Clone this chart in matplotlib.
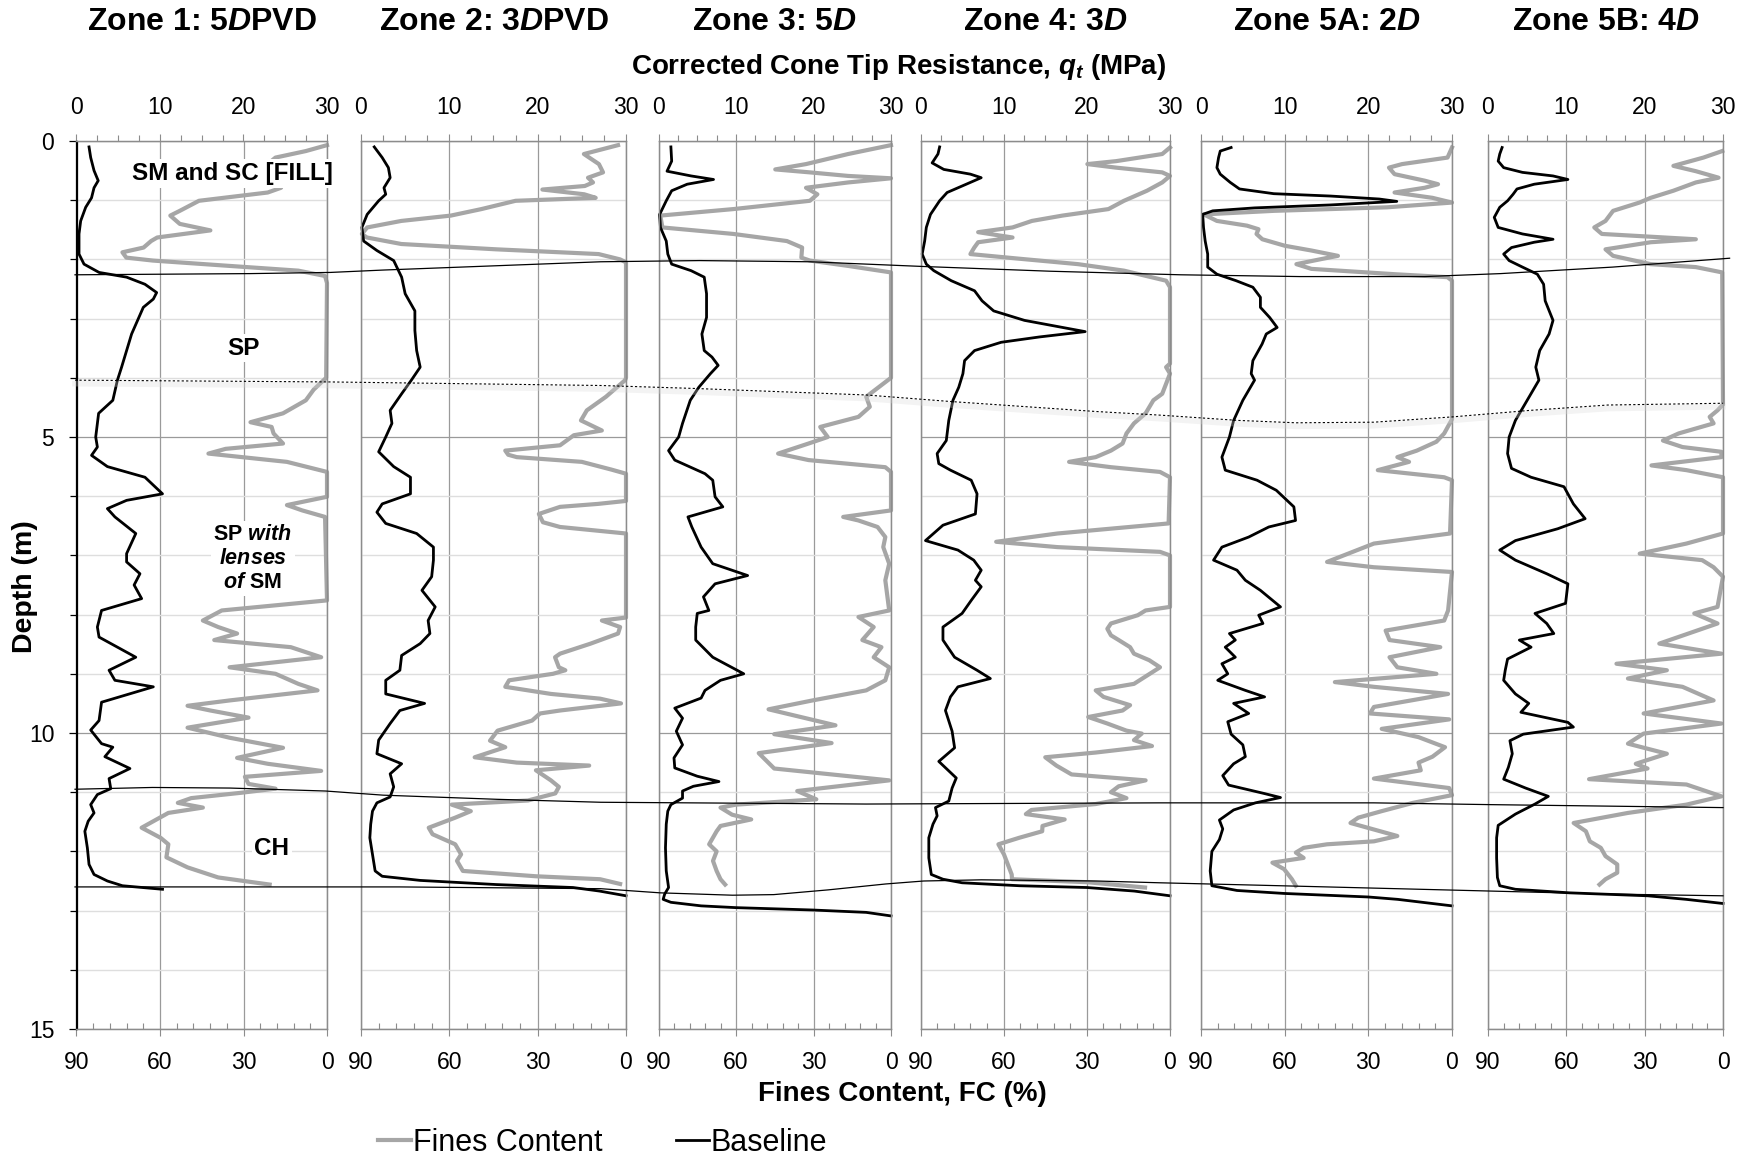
import numpy as np
import matplotlib
matplotlib.use('Agg')
import matplotlib.pyplot as plt
from matplotlib.ticker import MultipleLocator

"""
CPT profiles: corrected cone tip resistance qt (MPa) and fines content FC (%)
against depth (m) for six zones, values read off the reference figure.
"""

# panel titles
ZONES = ['Zone 1: 5$D$PVD', 'Zone 2: 3$D$PVD', 'Zone 3: 5$D$',
         'Zone 4: 3$D$', 'Zone 5A: 2$D$', 'Zone 5B: 4$D$']

# (depth m, qt MPa)
z1_qt = [(0.1, 1.5), (0.28, 1.7), (0.5, 2.1), (0.67, 2.6), (0.79, 2.1), (0.96, 1.8), (1.12, 1.1),
         (1.35, 0.5), (1.57, 0.3), (1.91, 0.3), (2.08, 0.9), (2.22, 2.7), (2.3, 6.0), (2.42, 8.2),
         (2.56, 9.6), (2.67, 9.2), (2.81, 8.0), (3.26, 6.6), (3.82, 5.4), (4.04, 4.9), (4.38, 4.35),
         (4.6, 2.65), (5.0, 2.3), (5.17, 2.5), (5.31, 1.8), (5.5, 3.7), (5.68, 8.2), (5.96, 10.3),
         (6.07, 6.0), (6.21, 3.7), (6.35, 4.6), (6.63, 7.1), (6.97, 6.0), (7.11, 6.0), (7.31, 7.6),
         (7.5, 6.9), (7.73, 7.8), (7.93, 3.0), (8.21, 2.5), (8.38, 2.7), (8.72, 7.1), (8.94, 3.9),
         (9.11, 4.6), (9.22, 9.2), (9.48, 3.0), (9.79, 2.7), (9.95, 1.7), (10.18, 3.0), (10.24, 4.35),
         (10.4, 3.4), (10.6, 6.4), (10.77, 3.9), (10.94, 4.1), (11.04, 2.5), (11.21, 1.7), (11.35, 2.1),
         (11.49, 1.4), (11.66, 1.0), (11.94, 1.3), (12.22, 1.5), (12.39, 2.1), (12.5, 3.7),
         (12.58, 5.5), (12.64, 10.3)]
z2_qt = [(0.1, 1.5), (0.28, 2.4), (0.45, 3.1), (0.62, 3.3), (0.79, 2.6), (0.9, 2.8), (1.01, 2.0),
         (1.24, 0.7), (1.46, 0.1), (1.69, 0.3), (1.85, 1.8), (2.02, 3.7), (2.3, 4.6), (2.58, 5.0),
         (2.87, 6.1), (3.2, 6.1), (3.54, 6.3), (3.82, 6.7), (4.04, 5.7), (4.27, 4.6), (4.55, 3.3),
         (4.77, 3.5), (5.0, 2.8), (5.25, 2.0), (5.5, 3.7), (5.68, 5.6), (5.96, 5.6), (6.13, 2.4),
         (6.27, 1.8), (6.46, 2.8), (6.63, 6.3), (6.86, 8.2), (7.08, 8.2), (7.36, 8.0), (7.59, 6.9),
         (7.87, 8.4), (8.1, 7.6), (8.32, 7.8), (8.49, 6.7), (8.69, 4.6), (8.94, 4.4), (9.11, 2.8),
         (9.34, 2.8), (9.5, 7.2), (9.62, 4.4), (9.84, 3.3), (10.12, 2.0), (10.35, 1.8), (10.52, 4.6),
         (10.69, 3.3), (10.91, 3.7), (11.08, 3.3), (11.18, 1.8), (11.32, 1.3), (11.54, 1.1),
         (11.77, 1.0), (12.05, 1.3), (12.33, 1.6), (12.42, 2.4), (12.49, 6.7), (12.56, 15.3),
         (12.61, 24.0), (12.67, 27.0), (12.75, 30.0)]
z3_qt = [(0.1, 1.6), (0.34, 1.7), (0.51, 1.1), (0.59, 4.2), (0.65, 7.1), (0.73, 3.7), (0.84, 1.7),
         (1.01, 1.0), (1.24, 0.15), (1.46, 0.25), (1.69, 1.0), (1.91, 1.2), (2.08, 1.7), (2.19, 4.2),
         (2.3, 5.9), (2.58, 6.2), (2.98, 6.2), (3.26, 5.6), (3.54, 5.9), (3.65, 6.9), (3.79, 7.7),
         (3.93, 6.7), (4.16, 5.2), (4.38, 4.1), (4.77, 3.1), (5.0, 2.6), (5.23, 1.3), (5.39, 2.1),
         (5.62, 6.0), (5.73, 7.0), (6.01, 7.3), (6.18, 8.3), (6.35, 3.8), (6.52, 4.3), (6.86, 5.5),
         (7.14, 7.0), (7.34, 11.5), (7.48, 7.3), (7.7, 5.8), (7.93, 6.5), (7.98, 5.0), (8.21, 4.8),
         (8.43, 4.8), (8.72, 7.0), (9.0, 11.0), (9.11, 8.0), (9.28, 6.0), (9.41, 5.5), (9.58, 2.1),
         (9.75, 3.1), (9.97, 2.3), (10.2, 3.1), (10.42, 2.0), (10.59, 2.1), (10.73, 5.0),
         (10.82, 7.8), (10.9, 4.5), (10.98, 3.1), (11.1, 3.1), (11.21, 1.6), (11.32, 1.2),
         (11.54, 1.0), (11.94, 0.9), (12.33, 1.0), (12.61, 1.3), (12.72, 0.8), (12.81, 0.6),
         (12.86, 1.6), (12.92, 5.5), (12.95, 10.0), (12.99, 19.9), (13.03, 26.8), (13.09, 30.0)]
z4_qt = [(0.1, 2.3), (0.22, 2.1), (0.37, 1.4), (0.48, 2.8), (0.56, 6.0), (0.62, 7.3), (0.73, 5.5),
         (0.87, 3.2), (1.01, 2.3), (1.24, 1.2), (1.46, 0.7), (1.69, 0.5), (1.91, 0.2), (2.08, 0.7),
         (2.19, 1.6), (2.36, 3.7), (2.53, 6.5), (2.7, 7.4), (2.87, 8.8), (3.03, 12.5), (3.15, 17.1),
         (3.22, 19.8), (3.31, 14.3), (3.4, 9.7), (3.54, 6.5), (3.71, 5.3), (3.93, 5.1), (4.16, 4.6),
         (4.38, 3.9), (4.72, 3.4), (5.06, 3.1), (5.28, 2.0), (5.45, 2.2), (5.56, 3.6), (5.73, 6.1),
         (5.96, 6.8), (6.3, 6.6), (6.49, 2.7), (6.75, 0.6), (6.91, 4.5), (7.08, 6.4), (7.25, 7.3),
         (7.42, 6.6), (7.53, 7.3), (7.76, 6.1), (7.98, 5.0), (8.21, 2.7), (8.43, 2.7), (8.72, 4.1),
         (8.94, 6.8), (9.08, 8.4), (9.22, 4.5), (9.39, 3.6), (9.62, 3.0), (9.97, 3.8), (10.25, 4.1),
         (10.48, 2.2), (10.76, 4.3), (10.93, 3.8), (11.15, 3.4), (11.26, 1.8), (11.4, 2.0),
         (11.54, 1.5), (11.77, 1.0), (12.11, 1.0), (12.39, 1.3), (12.47, 2.7), (12.53, 5.0),
         (12.58, 11.9), (12.61, 20.0), (12.67, 25.7), (12.75, 30.0)]
z5_qt = [(0.11, 3.6), (0.17, 2.3), (0.28, 2.1), (0.45, 1.9), (0.56, 2.3), (0.7, 3.5), (0.81, 4.6),
         (0.89, 8.7), (0.93, 15.5), (0.98, 21.3), (1.02, 23.4), (1.08, 15.5), (1.13, 6.4),
         (1.18, 1.4), (1.24, 0.2), (1.46, 0.3), (1.69, 0.5), (1.91, 0.8), (2.13, 0.8), (2.25, 1.9),
         (2.36, 4.2), (2.47, 6.2), (2.64, 7.1), (2.81, 7.1), (2.98, 8.2), (3.15, 9.1), (3.26, 7.8),
         (3.43, 7.3), (3.71, 6.2), (3.93, 6.0), (4.04, 6.4), (4.38, 5.0), (4.72, 3.9), (5.0, 3.4),
         (5.34, 2.5), (5.56, 2.9), (5.73, 6.7), (5.9, 9.0), (6.18, 11.1), (6.41, 11.3), (6.52, 8.1),
         (6.69, 5.7), (6.86, 2.5), (7.08, 1.5), (7.25, 4.3), (7.42, 5.3), (7.59, 7.1), (7.87, 9.5),
         (8.01, 6.9), (8.15, 7.4), (8.32, 3.4), (8.43, 4.1), (8.55, 2.9), (8.72, 4.1), (8.83, 2.5),
         (9.0, 3.2), (9.11, 2.0), (9.28, 5.3), (9.39, 7.6), (9.5, 3.9), (9.67, 5.7), (9.81, 3.2),
         (10.02, 3.6), (10.2, 5.0), (10.4, 5.3), (10.52, 3.9), (10.72, 2.6), (10.88, 3.3),
         (11.02, 7.5), (11.09, 9.5), (11.18, 6.5), (11.3, 3.9), (11.47, 2.2), (11.62, 2.6),
         (11.8, 2.2), (12.0, 1.3), (12.33, 1.1), (12.58, 1.3), (12.66, 4.3), (12.71, 9.9),
         (12.77, 20.0), (12.81, 23.5), (12.92, 30.0)]
z6_qt = [(0.11, 1.8), (0.22, 1.5), (0.34, 1.3), (0.45, 2.0), (0.53, 4.4), (0.59, 8.3), (0.65, 10.2),
         (0.73, 5.9), (0.81, 3.7), (0.9, 3.2), (1.01, 2.5), (1.12, 1.5), (1.29, 0.8), (1.46, 1.3),
         (1.57, 4.4), (1.66, 8.3), (1.71, 5.9), (1.8, 3.0), (1.91, 2.0), (2.02, 2.7), (2.13, 4.4),
         (2.25, 6.3), (2.42, 7.1), (2.7, 7.3), (3.03, 8.3), (3.26, 7.8), (3.54, 6.6), (3.82, 6.1),
         (4.04, 6.5), (4.38, 5.0), (4.72, 3.5), (5.0, 2.7), (5.28, 2.5), (5.53, 3.0), (5.68, 5.5),
         (5.84, 9.7), (6.13, 10.9), (6.38, 12.4), (6.55, 8.9), (6.75, 3.5), (6.91, 1.5), (7.08, 3.5),
         (7.31, 7.5), (7.48, 10.2), (7.81, 9.9), (7.98, 6.0), (8.15, 7.5), (8.32, 8.4), (8.43, 4.0),
         (8.55, 5.5), (8.75, 2.5), (8.94, 2.2), (9.11, 2.0), (9.34, 3.5), (9.5, 5.2), (9.65, 4.2),
         (9.82, 10.2), (9.9, 10.9), (10.02, 4.5), (10.13, 2.8), (10.35, 3.1), (10.58, 2.6),
         (10.78, 2.0), (10.93, 4.8), (11.07, 7.7), (11.2, 6.0), (11.37, 3.5), (11.56, 1.3),
         (11.77, 1.1), (12.11, 1.1), (12.44, 1.2), (12.58, 1.5), (12.64, 3.5), (12.7, 10.4),
         (12.75, 20.4), (12.81, 25.3), (12.88, 30.0)]

# (depth m, FC %)
z1_fc = [(0.07, 0), (0.17, 7.6), (0.28, 18.5), (0.39, 21.3), (0.56, 19.9), (0.7, 22.7), (0.79, 16.5),
         (0.87, 21.3), (1.01, 46), (1.18, 52.9), (1.26, 56.3), (1.4, 52.9), (1.51, 41.9), (1.63, 61),
         (1.69, 63.2), (1.8, 65.9), (1.88, 73.5), (1.97, 72.1), (2.02, 62.5), (2.11, 35), (2.19, 10.3),
         (2.28, 0.7), (2.4, 0), (4.0, 0.3), (4.2, 4.8), (4.38, 7.6), (4.6, 15.8), (4.75, 27.5),
         (4.83, 19.9), (4.94, 19.2), (5.11, 15.8), (5.2, 36.4), (5.28, 42.6), (5.42, 14.4), (5.59, 0),
         (6.01, 0), (6.15, 14.4), (6.24, 8.9), (6.35, 0.7), (7.76, 0), (7.93, 37.8), (8.1, 44.6),
         (8.21, 39.1), (8.32, 32.3), (8.43, 40.5), (8.55, 13), (8.72, 2.1), (8.89, 35), (9.0, 18.5),
         (9.17, 10.3), (9.28, 3.4), (9.45, 35), (9.54, 50.1), (9.62, 41.9), (9.74, 28.2), (9.91, 50.1),
         (10.08, 35), (10.25, 15.8), (10.42, 32.3), (10.52, 21.3), (10.64, 2.1), (10.74, 29.5),
         (10.86, 28.2), (10.94, 18.5), (11.01, 30.9), (11.1, 48.8), (11.18, 53.6), (11.26, 44.6),
         (11.35, 57), (11.6, 66.6), (11.77, 59.8), (11.88, 57), (12.1, 57.7), (12.27, 50.1),
         (12.44, 39.1), (12.56, 20.6)]
z2_fc = [(0.07, 2.7), (0.22, 14.3), (0.39, 9.2), (0.53, 7.8), (0.62, 12.9), (0.7, 11.2), (0.76, 14),
         (0.82, 28.4), (0.9, 14.2), (0.96, 10.3), (1.01, 37.5), (1.15, 49.1), (1.26, 59.5),
         (1.35, 76.3), (1.46, 87.9), (1.57, 89.7), (1.63, 88), (1.74, 76.3), (1.83, 44), (1.91, 9.3),
         (2.0, 2), (2.05, 0), (4.0, 0), (4.04, 0.3), (4.32, 6.8), (4.55, 13.3), (4.72, 15.3),
         (4.89, 8.2), (4.97, 17.7), (5.14, 22.4), (5.23, 41), (5.3, 40), (5.34, 37.1), (5.42, 15),
         (5.55, 5), (5.62, 0), (6.08, 0), (6.13, 9.5), (6.18, 22.4), (6.3, 29.6), (6.44, 28.2),
         (6.52, 22.4), (6.63, 0), (8.05, 0), (8.1, 8.2), (8.21, 2), (8.32, 2.7), (8.49, 12),
         (8.66, 22.4), (8.72, 24.1), (8.89, 22.8), (8.94, 20.6), (9.0, 24.8), (9.11, 39.7), (9.22, 41),
         (9.34, 25.5), (9.42, 8.8), (9.5, 1.7), (9.62, 22.4), (9.67, 29.2), (9.79, 31.9), (9.96, 43.6),
         (10.13, 46.2), (10.24, 41), (10.41, 51.4), (10.5, 37.1), (10.55, 12.5), (10.63, 30.6),
         (10.8, 25.5), (10.91, 22.8), (11.02, 24), (11.14, 33.3), (11.21, 59.2), (11.32, 52.7),
         (11.43, 58), (11.6, 67), (11.71, 65.7), (11.88, 58), (12.05, 56), (12.16, 57.4),
         (12.33, 55.4), (12.42, 30.6), (12.47, 8.8), (12.55, 2)]
z3_fc = [(0.07, 0), (0.22, 16.6), (0.39, 32.9), (0.48, 44.8), (0.53, 31.4), (0.59, 16.6), (0.63, 0),
         (0.7, 16.6), (0.79, 32.9), (0.9, 28.5), (1.01, 31.4), (1.15, 61), (1.26, 89.3), (1.46, 88.5),
         (1.57, 61), (1.69, 40.3), (1.8, 34.4), (1.97, 34.7), (2.02, 31.4), (2.11, 16.6), (2.22, 0),
         (4.0, 0), (4.32, 9.6), (4.49, 8.2), (4.66, 12.6), (4.83, 27.4), (5.0, 24.5), (5.11, 31.9),
         (5.28, 43.7), (5.39, 31.9), (5.51, 2.2), (5.59, 0), (6.24, 0), (6.35, 18.5), (6.41, 12.6),
         (6.52, 5.2), (6.69, 2.2), (6.86, 3.0), (7.14, 0.7), (7.42, 2.2), (7.93, 0.7), (8.04, 12.6),
         (8.21, 6.7), (8.43, 11.1), (8.55, 3.7), (8.72, 6.7), (8.89, 0.7), (9.11, 2.2), (9.28, 9.6),
         (9.45, 30.4), (9.6, 47.4), (9.87, 21.5), (10.02, 45.2), (10.17, 23), (10.34, 51.2),
         (10.6, 45.2), (10.8, 0.7), (10.98, 36.3), (11.12, 28.9), (11.21, 60), (11.26, 66),
         (11.38, 61.5), (11.46, 54.1), (11.57, 66), (11.66, 67.5), (11.88, 70.4), (12.0, 67.5),
         (12.16, 68.9), (12.33, 67.5), (12.47, 66), (12.56, 64.2)]
z4_fc = [(0.11, 0), (0.22, 2.8), (0.34, 19.4), (0.39, 29.8), (0.45, 19.4), (0.53, 2.8), (0.59, 0),
         (0.7, 2.8), (0.84, 8.3), (1.01, 16.6), (1.15, 22.2), (1.26, 38.8), (1.35, 49.8), (1.46, 56.8),
         (1.54, 69.2), (1.63, 56.8), (1.71, 69.2), (1.8, 70.6), (1.91, 72), (1.99, 54), (2.08, 33.2),
         (2.19, 16.6), (2.36, 1.4), (2.47, 0), (3.76, 0), (3.82, 1.4), (3.93, 0), (4.27, 2.8),
         (4.38, 6), (4.6, 8.8), (4.77, 13), (4.94, 15.7), (5.11, 17.1), (5.23, 21.3), (5.34, 26.8),
         (5.42, 36.4), (5.51, 21.3), (5.59, 3.6), (5.68, 0), (6.46, 0.5), (6.63, 40.6), (6.77, 62.7),
         (6.86, 40.6), (6.94, 3.6), (7.0, 0), (7.87, 0), (7.93, 8.8), (8.01, 11.6), (8.15, 21.3),
         (8.24, 22.6), (8.35, 21.3), (8.43, 18.5), (8.55, 14.4), (8.66, 13), (8.77, 7.5), (8.89, 3.6),
         (9.17, 13), (9.28, 26.8), (9.39, 24), (9.53, 14.4), (9.62, 17.1), (9.73, 29.5), (9.84, 22.6),
         (9.96, 15.7), (10.01, 10.2), (10.12, 13), (10.22, 6.5), (10.33, 26.8), (10.41, 45),
         (10.55, 41), (10.7, 35.5), (10.8, 8.8), (10.9, 18.5), (11.0, 21.3), (11.1, 15.7),
         (11.2, 26.8), (11.3, 50), (11.37, 52), (11.46, 38), (11.57, 46), (11.66, 46.1),
         (11.77, 54.4), (11.88, 61.9), (12.05, 59.9), (12.22, 58.5), (12.39, 57.1), (12.47, 57),
         (12.52, 30), (12.61, 9)]
z5_fc = [(0.11, 0), (0.28, 1.6), (0.39, 17.9), (0.45, 22.6), (0.56, 20.6), (0.67, 9.8), (0.73, 5),
         (0.79, 9.8), (0.87, 20.6), (0.96, 7), (1.04, 0), (1.12, 23.3), (1.18, 64), (1.24, 89),
         (1.35, 84.3), (1.43, 73.5), (1.49, 69.4), (1.57, 70.1), (1.66, 68), (1.77, 59.9),
         (1.85, 50.4), (1.94, 40.9), (1.99, 46.4), (2.08, 55.8), (2.16, 50.4), (2.25, 20.6),
         (2.3, 1.6), (2.36, 0), (4.7, 0), (4.94, 2.8), (5.08, 5.6), (5.23, 12.6), (5.34, 19.6),
         (5.42, 15.4), (5.56, 26.6), (5.68, 2.8), (5.73, 0), (6.63, 0.7), (6.8, 28), (7.11, 44.8),
         (7.2, 28), (7.28, 0), (7.93, 1.4), (8.1, 2.8), (8.27, 23.8), (8.43, 22.4), (8.55, 4.2),
         (8.72, 22.4), (8.89, 19.6), (9.0, 5.6), (9.14, 42), (9.22, 28), (9.34, 1.4), (9.56, 28),
         (9.67, 29.4), (9.77, 1), (9.93, 25.2), (10.07, 12), (10.24, 2.5), (10.4, 7), (10.5, 12),
         (10.63, 11.2), (10.77, 28), (10.93, 1), (11.05, 0), (11.18, 14), (11.32, 25.2),
         (11.43, 33.6), (11.52, 36.4), (11.63, 28), (11.74, 19.6), (11.83, 28), (11.88, 44.8),
         (11.94, 53.2), (12.02, 56), (12.11, 53.2), (12.19, 64.4), (12.3, 60.2), (12.47, 57.4),
         (12.58, 56)]
z6_fc = [(0.17, 0.3), (0.28, 7.5), (0.42, 19), (0.51, 10.4), (0.62, 1.7), (0.7, 10.4), (0.84, 19),
         (0.96, 27.7), (1.04, 32), (1.18, 42.1), (1.35, 45), (1.46, 49.3), (1.57, 46.4), (1.66, 10.4),
         (1.71, 27.7), (1.83, 45), (1.94, 42.1), (2.08, 27.7), (2.13, 10.4), (2.22, 0.3), (4.45, 0),
         (4.55, 2.1), (4.66, 5.1), (4.77, 3.6), (4.94, 17), (5.06, 23), (5.17, 15.5), (5.25, 0.6),
         (5.34, 0.6), (5.48, 27.4), (5.56, 14), (5.68, 0), (6.63, 0), (6.8, 14), (6.97, 31.9),
         (7.08, 8), (7.2, 3.6), (7.36, 0), (7.87, 2.1), (7.98, 11), (8.15, 2.1), (8.49, 24.4),
         (8.66, 0.6), (8.83, 40.8), (8.94, 21.5), (9.08, 36.4), (9.22, 15.5), (9.45, 3.6),
         (9.67, 30.4), (9.84, 0.6), (10.01, 30.4), (10.18, 36.4), (10.35, 21.5), (10.52, 33.4),
         (10.6, 28.9), (10.78, 51.3), (10.87, 14), (11.07, 0.6), (11.21, 14), (11.35, 36.4),
         (11.52, 57.2), (11.66, 52.5), (11.83, 51), (11.94, 46.8), (12.08, 45), (12.22, 40.5),
         (12.36, 40.5), (12.47, 45), (12.56, 47.3)]

QT = [z1_qt, z2_qt, z3_qt, z4_qt, z5_qt, z6_qt]
FC = [z1_fc, z2_fc, z3_fc, z4_fc, z5_fc, z6_fc]

# layer boundaries across the whole strip: (position 0..1 across panels, depth m)
fill_base = [(0.0, 2.26), (0.106, 2.24), (0.155, 2.22), (0.187, 2.18), (0.319, 2.04), (0.379, 2.02),
             (0.446, 2.04), (0.515, 2.12), (0.592, 2.2), (0.671, 2.26), (0.743, 2.29), (0.819, 2.29),
             (0.865, 2.24), (0.933, 2.13), (1.004, 1.98)]
sp_split = [(0.0, 4.04), (0.155, 4.07), (0.319, 4.13), (0.376, 4.18), (0.48, 4.29), (0.531, 4.4),
            (0.62, 4.57), (0.658, 4.63), (0.706, 4.72), (0.741, 4.76), (0.788, 4.75), (0.836, 4.66),
            (0.883, 4.55), (0.93, 4.46), (1.0, 4.43)]
ch_top = [(0.0, 10.95), (0.047, 10.92), (0.094, 10.93), (0.152, 10.98), (0.187, 11.05),
          (0.256, 11.12), (0.319, 11.17), (0.48, 11.2), (0.658, 11.18), (0.788, 11.18),
          (0.859, 11.21), (1.0, 11.26)]
ch_base = [(0.0, 12.6), (0.197, 12.6), (0.319, 12.63), (0.355, 12.7), (0.399, 12.74), (0.424, 12.73),
           (0.457, 12.65), (0.492, 12.55), (0.515, 12.5), (0.55, 12.48), (0.62, 12.5), (0.658, 12.53),
           (0.717, 12.57), (0.788, 12.62), (0.859, 12.67), (0.93, 12.72), (1.0, 12.75)]

# soil descriptions in zone 1: (qt position, depth, text, size)
SOIL_LABELS = [(18.7, 0.55, 'SM and SC [FILL]', 17.5),
               (20.0, 3.5, 'SP', 17.5),
               (21.1, 7.05, 'SP $with$\n$lenses$\n$of$ SM', 15.5),
               (23.4, 11.95, 'CH', 17.5)]

FC_COLOR = '#a6a6a6'
GRID_MAJOR = '#9a9a9a'
GRID_MINOR = '#dedede'
SPINE = '#8c8c8c'

plt.rcParams['font.family'] = ['Liberation Sans', 'DejaVu Sans']
plt.rcParams['mathtext.fontset'] = 'custom'
plt.rcParams['mathtext.it'] = 'Liberation Sans:italic:bold'
plt.rcParams['mathtext.rm'] = 'Liberation Sans:bold'
plt.rcParams['mathtext.bf'] = 'Liberation Sans:bold'

W, H = 1752, 1157
fig = plt.figure(figsize=(W / 100, H / 100), dpi=100)

# panel edges in pixels
panel_px = [(76.5, 327), (361, 626), (658.5, 891), (920.5, 1170), (1201, 1452), (1488, 1723)]
top_px, bot_px = 141, 1029

handles = []
for i, (x0, x1) in enumerate(panel_px):
    rect = [x0 / W, 1 - bot_px / H, (x1 - x0) / W, (bot_px - top_px) / H]
    ax = fig.add_axes(rect)
    ax.set_xlim(90, 0)
    ax.set_ylim(15, 0)
    fc = np.array(FC[i])
    l_fc, = ax.plot(fc[:, 1], fc[:, 0], color=FC_COLOR, lw=3.0, solid_joinstyle='round',
                    clip_on=False)

    # bottom axis: fines content
    ax.set_xticks([90, 60, 30, 0])
    ax.xaxis.set_minor_locator(MultipleLocator(6))
    ax.tick_params(axis='x', which='major', direction='out', length=5, width=0.8,
                   color=SPINE, labelsize=16.5, pad=11)
    ax.tick_params(axis='x', which='minor', direction='in', length=4, width=0.8, color=SPINE)

    # depth axis and grid
    ax.set_yticks([0, 5, 10, 15])
    ax.yaxis.set_minor_locator(MultipleLocator(1))
    if i == 0:
        ax.tick_params(axis='y', which='major', direction='out', length=6, width=0.9,
                       color='black', labelsize=16.5, pad=10)
        ax.tick_params(axis='y', which='minor', direction='out', length=5, width=0.9,
                       color='black')
    else:
        ax.tick_params(axis='y', which='both', left=False, labelleft=False)
    ax.grid(True, axis='x', which='major', color=GRID_MAJOR, lw=0.9)
    ax.grid(True, axis='y', which='major', color=GRID_MAJOR, lw=0.9)
    ax.grid(True, axis='y', which='minor', color=GRID_MINOR, lw=1.0)
    ax.set_axisbelow(True)

    # top axis: cone tip resistance
    ax2 = ax.twiny()
    ax2.set_xlim(0, 30)
    qt = np.array(QT[i])
    l_qt, = ax2.plot(qt[:, 1], qt[:, 0], color='black', lw=2.0, solid_joinstyle='round',
                     clip_on=False)
    ax2.set_xticks([0, 10, 20, 30])
    ax2.xaxis.set_minor_locator(MultipleLocator(2.5))
    ax2.tick_params(axis='x', which='major', direction='out', length=5, width=0.8,
                    color=SPINE, labelsize=16.5, pad=11)
    ax2.tick_params(axis='x', which='minor', direction='out', length=4, width=0.8, color=SPINE)

    for a in (ax, ax2):
        for s in a.spines.values():
            s.set_color(SPINE)
            s.set_linewidth(0.9)
        if i == 0:
            a.spines['left'].set_color('black')

    if i == 0:
        handles = [l_fc, l_qt]
        for x, d, txt, size in SOIL_LABELS:
            ax2.text(x, d, txt, ha='center', va='center', fontsize=size, fontweight='bold',
                     linespacing=1.2, zorder=5,
                     bbox=dict(facecolor='white', edgecolor='none', pad=2))

    fig.text((x0 + x1) / 2 / W, 0.981, ZONES[i], ha='center', va='center',
             fontsize=23, fontweight='bold')

# layer boundary lines drawn over all panels
ov = fig.add_axes([75 / W, 1 - bot_px / H, 1648 / W, (bot_px - top_px) / H], zorder=10)
ov.set_xlim(0, 1)
ov.set_ylim(15, 0)
ov.axis('off')
for line in (fill_base, ch_top, ch_base):
    b = np.array(line)
    ov.plot(b[:, 0], b[:, 1], color='black', lw=0.9, clip_on=False)
b = np.array(sp_split)
ov.plot(b[:, 0], b[:, 1] + 0.06, color='#d8d8d8', lw=4, alpha=0.3, clip_on=False)
ov.plot(b[:, 0], b[:, 1], color='black', lw=0.8, linestyle=(0, (2, 2)), clip_on=False)

fig.text(0.5128, 0.942, 'Corrected Cone Tip Resistance, $q_t$ (MPa)', ha='center',
         va='center', fontsize=20, fontweight='bold')
fig.text(0.515, 0.0545, 'Fines Content, FC (%)', ha='center', va='center',
         fontsize=20, fontweight='bold')
fig.text(0.014, 0.493, 'Depth (m)', rotation=90, ha='center', va='center',
         fontsize=20.5, fontweight='bold')

fig.legend(handles, ['Fines Content', 'Baseline'], loc='center', bbox_to_anchor=(0.344, 0.012),
           ncol=2, frameon=False, fontsize=22, handlelength=1.1, handletextpad=0.05,
           columnspacing=2.4, borderpad=0, borderaxespad=0)

fig.savefig('out.png', dpi=100)
